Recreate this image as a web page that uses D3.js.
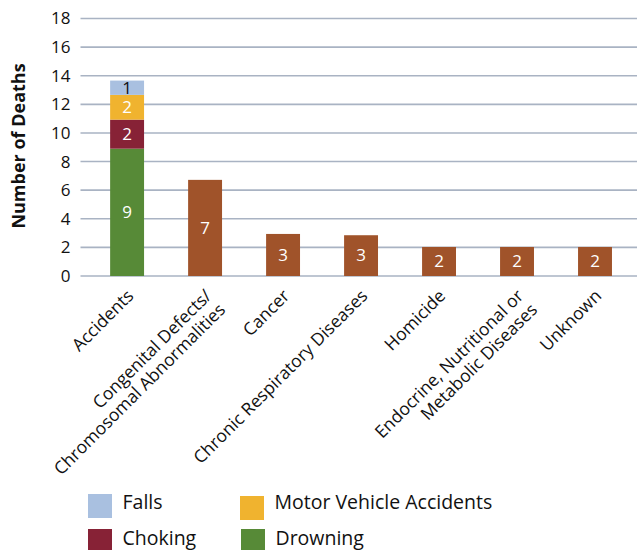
<!DOCTYPE html>
<html>
<head>
<meta charset="utf-8">
<script src="https://cdn.jsdelivr.net/npm/d3@7/dist/d3.min.js"></script>
<style>
  html, body { margin: 0; padding: 0; background: #fff; }
  svg { display: block; }
  text { font-family: "Open Sans", "Noto Sans", sans-serif; fill: #111; }
</style>
</head>
<body>
<svg id="chart" width="637" height="550"></svg>
<script>
// ---- data ----
const categories = [
  "Accidents",
  "Congenital Defects/\nChromosomal Abnormalities",
  "Cancer",
  "Chronic Respiratory Diseases",
  "Homicide",
  "Endocrine, Nutritional or\nMetabolic Diseases",
  "Unknown"
];
// Accident sub-causes (stacked in the first bar), heights as drawn
const accidentSeries = ["Drowning", "Choking", "Motor Vehicle Accidents", "Falls"];
const accidentValues = [8.9, 2.03, 1.73, 1.0];
const accidentLabels = ["9", "2", "2", "1"];
// Other causes (single bars), heights as drawn
const otherValues = [null, 6.72, 2.94, 2.85, 2.03, 2.03, 2.03];
const otherLabels = [null, "7", "3", "3", "2", "2", "2"];
const yTicks = [0, 2, 4, 6, 8, 10, 12, 14, 16, 18];
const legendOrder = ["Falls", "Motor Vehicle Accidents", "Choking", "Drowning"];

const colors = {
  "Drowning": "#578A37",
  "Choking": "#872236",
  "Motor Vehicle Accidents": "#F0B32F",
  "Falls": "#A9C0E0",
  "Other": "#A0532A"
};
const labelColors = { "Falls": "#111" };

// ---- layout ----
const svg = d3.select("#chart");
const plotLeft = 80.5, plotRight = 637;
const y = d3.scaleLinear().domain([0, 18]).range([276, 18.5]);
const x = d3.scaleBand().domain(categories).range([88.1, 634])
  .paddingInner(0.565).paddingOuter(0.2825);

// gridlines
svg.append("g").selectAll("line").data(yTicks).join("line")
  .attr("x1", plotLeft).attr("x2", plotRight)
  .attr("y1", d => y(d)).attr("y2", d => y(d))
  .attr("stroke", "#A9B3C3").attr("stroke-width", 1.6);

// y axis labels
const yAxis = d3.axisLeft(y).tickValues(yTicks).tickSize(0).tickPadding(0);
const gy = svg.append("g").attr("transform", "translate(70.5,0)").call(yAxis);
gy.select(".domain").remove();
gy.selectAll("text").style("font-size", "17px").attr("fill", "#111")
  .style("font-family", "'Open Sans', sans-serif");

// y title
svg.append("text")
  .attr("transform", "translate(24.5,146) rotate(-90)")
  .attr("text-anchor", "middle")
  .style("font-size", "18px").style("font-weight", "bold")
  .text("Number of Deaths");

// stacked accident bar
const stackData = [Object.fromEntries(accidentSeries.map((s, i) => [s, accidentValues[i]]))];
const stacked = d3.stack().keys(accidentSeries)(stackData);
const gAcc = svg.append("g");
stacked.forEach((layer, i) => {
  const d = layer[0];
  gAcc.append("rect")
    .attr("x", x(categories[0])).attr("width", x.bandwidth())
    .attr("y", y(d[1])).attr("height", y(d[0]) - y(d[1]))
    .attr("fill", colors[layer.key]);
  gAcc.append("text")
    .attr("x", x(categories[0]) + x.bandwidth() / 2)
    .attr("y", (y(d[0]) + y(d[1])) / 2)
    .attr("dy", "0.34em").attr("text-anchor", "middle")
    .style("font-size", "17px")
    .style("fill", labelColors[layer.key] || "#fff")
    .text(accidentLabels[i]);
});

// other bars
const others = categories.map((c, i) => ({ c, v: otherValues[i], l: otherLabels[i] })).filter(d => d.v != null);
svg.append("g").selectAll("rect").data(others).join("rect")
  .attr("x", d => x(d.c)).attr("width", x.bandwidth())
  .attr("y", d => y(d.v)).attr("height", d => y(0) - y(d.v))
  .attr("fill", colors.Other);
svg.append("g").selectAll("text").data(others).join("text")
  .attr("x", d => x(d.c) + x.bandwidth() / 2)
  .attr("y", d => (y(0) + y(d.v)) / 2)
  .attr("dy", "0.34em").attr("text-anchor", "middle")
  .style("font-size", "17px").style("fill", "#fff")
  .text(d => d.l);

// x labels (rotated -45, lines right-aligned, first line ends at the tick)
const lh = 19.5;
categories.forEach(c => {
  const lines = c.split("\n");
  const cx = x(c) + x.bandwidth() / 2;
  const g = svg.append("g").attr("transform", `translate(${cx + 7.5},${297}) rotate(-45)`);
  lines.forEach((ln, i) => g.append("text")
    .style("font-size", "17.5px")
    .attr("text-anchor", "end")
    .attr("x", 0)
    .attr("y", i * lh)
    .text(ln));
});

// legend
const legendPos = {
  "Falls": [88, 494],
  "Motor Vehicle Accidents": [240, 496],
  "Choking": [88, 529],
  "Drowning": [241, 529]
};
const legendBaseline = { "Falls": 509.3, "Motor Vehicle Accidents": 509.3, "Choking": 545, "Drowning": 545 };
const lg = svg.append("g");
legendOrder.forEach(k => {
  const [lx, ly] = legendPos[k];
  lg.append("rect").attr("x", lx).attr("y", ly).attr("width", 24).attr("height", 24)
    .attr("fill", colors[k]);
  lg.append("text").attr("x", lx + 34.5).attr("y", legendBaseline[k])
    .style("font-size", "19.5px").text(k);
});
</script>
</body>
</html>
